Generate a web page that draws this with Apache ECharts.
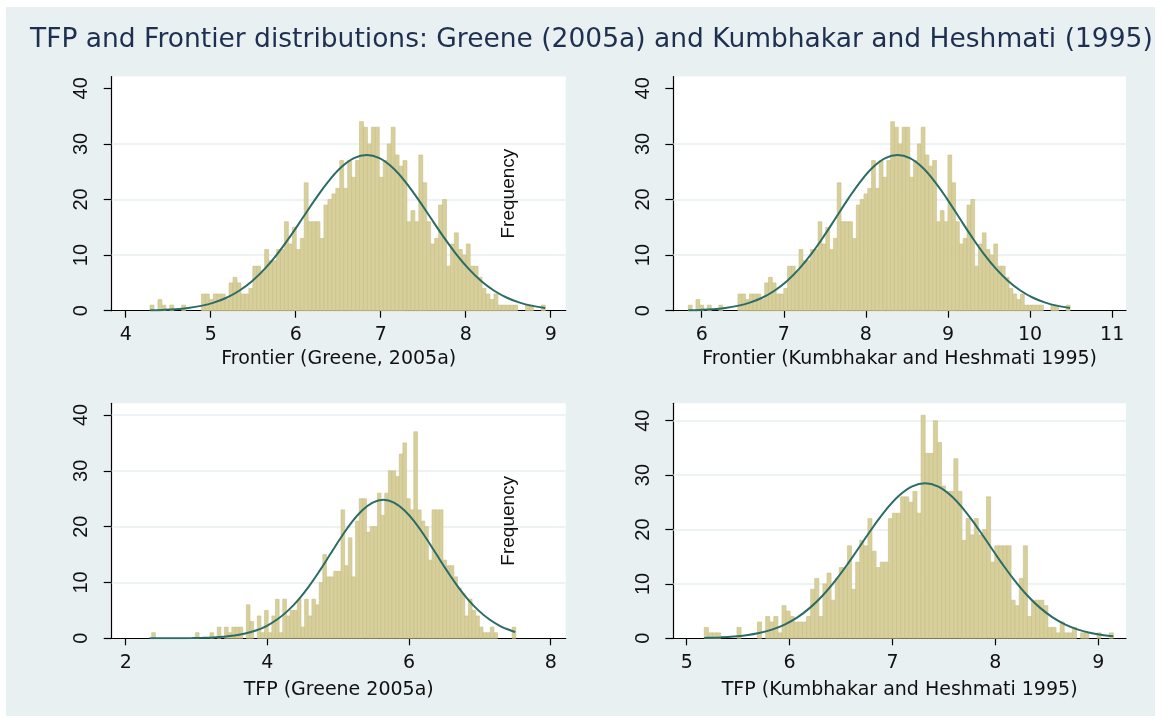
<!DOCTYPE html>
<html><head><meta charset="utf-8">
<script src="https://cdn.jsdelivr.net/npm/echarts/dist/echarts.min.js"></script>
<style>html,body{margin:0;padding:0;background:#fff}#c{width:1161px;height:722px}</style>
</head><body><div id="c"></div>
<script>
const titleText = "TFP and Frontier distributions: Greene (2005a) and Kumbhakar and Heshmati (1995)";
const axisTitles = ["Frontier (Greene, 2005a)", "Frontier (Kumbhakar and Heshmati 1995)", "TFP (Greene 2005a)", "TFP (Kumbhakar and Heshmati 1995)"];
const yTitle = "Frequency";
const yTicks = [0, 10, 20, 30, 40];
const gridTop = [10, 20, 30];
const gridBottom = [10, 20, 30, 40];
const xTicks1 = [4, 5, 6, 7, 8, 9];
const xTicks2 = [6, 7, 8, 9, 10, 11];
const xTicks3 = [2, 4, 6, 8];
const xTicks4 = [5, 6, 7, 8, 9];

// histogram bins: first bin left edge, bin width, frequencies
const binStart1 = 4.286, binWidth1 = 0.0465;
const counts1 = [1,0,2,1,0,1,0,0,1,0, 0,0,0,3,3,2,3,3,3,2, 5,6,5,3,3,4,8,8,7,11, 9,9,11,11,16,12,15,11,13,23,
  16,16,16,13,19,20,21,22,27,22, 27,24,27,34,33,30,33,33,24,27, 30,33,28,26,27,16,18,16,28,23,
  16,12,13,19,20,8,12,14,11,10, 12,8,8,6,4,3,2,3,1,1, 1,1,1,0,0,1,1,0,0,1];
const binStart2 = 5.837, binWidth2 = 0.0465;
const counts2 = [1,0,2,1,0,1,0,0,1,0, 0,0,0,3,3,2,3,3,3,2, 5,6,5,3,3,4,8,8,7,11, 9,9,11,11,16,12,15,11,13,23,
  16,16,16,13,19,20,21,22,27,22, 27,24,27,34,33,30,33,33,24,27, 30,33,28,26,27,16,18,16,28,23,
  16,12,13,19,20,8,12,14,11,10, 12,8,8,6,4,3,2,3,1,1, 1,1,1,0,0,1,1,0,0,1];
const binStart3 = 2.367, binWidth3 = 0.0514;
const counts3 = [1,0,0,0,0,0,0,0,0,0, 0,0,1,0,0,0,1,0,2,0, 2,1,2,2,2,0,6,3,0,4, 1,5,1,4,7,1,7,4,5,5,
  7,2,7,4,7,6,10,15,11,11, 12,12,23,13,18,11,21,25,25,19, 20,20,26,22,26,30,30,29,33,35,
  25,23,37,23,21,20,14,23,23,23, 14,13,13,11,9,8,4,7,5,4, 2,1,1,2,1,0,0,0,0,2];
const binStart4 = 5.171, binWidth4 = 0.03975;
const counts4 = [2,1,1,1,0,0,0,0,2,0, 0,0,0,3,0,4,3,4,1,6, 5,4,3,3,3,4,9,11,4,10, 12,7,11,13,13,17,9,14,18,17,
  22,16,13,14,14,22,23,23,26,26, 25,27,23,41,34,34,40,36,28,27, 27,33,27,18,22,19,22,19,20,26,
  14,17,17,17,17,7,6,11,17,4, 7,7,7,6,2,2,1,3,1,1, 2,0,1,1,0,0,1,0,0,1];

// normal density overlays
const curveX1 = [4.285,4.435,4.585,4.735,4.885,5.035,5.185,5.335,5.485,5.635,5.785,5.935,6.085,6.235,6.385,6.535,6.685,6.835,
  6.985,7.135,7.285,7.435,7.585,7.735,7.885,8.035,8.185,8.335,8.485,8.635,8.785,8.935];
const curveY1 = [0.074,0.146,0.275,0.5,0.87,1.45,2.33,3.59,5.3,7.52,10.23,13.36,16.75,20.16,23.27,25.79,27.43,28,
  27.43,25.79,23.27,20.16,16.75,13.36,10.23,7.52,5.3,3.59,2.33,1.45,0.87,0.5];
const curveX2 = [5.836,5.986,6.136,6.286,6.436,6.586,6.736,6.886,7.036,7.186,7.336,7.486,7.636,7.786,7.936,8.086,8.236,8.386,
  8.536,8.686,8.836,8.986,9.136,9.286,9.436,9.586,9.736,9.886,10.036,10.186,10.336,10.486];
const curveY2 = [0.074,0.146,0.275,0.5,0.87,1.45,2.33,3.59,5.3,7.52,10.23,13.36,16.75,20.16,23.27,25.79,27.43,28,
  27.43,25.79,23.27,20.16,16.75,13.36,10.23,7.52,5.3,3.59,2.33,1.45,0.87,0.5];
const curveX3 = [2.337,2.487,2.637,2.787,2.937,3.087,3.237,3.387,3.537,3.687,3.837,3.987,4.137,4.287,4.437,4.587,4.737,4.887,5.037,5.187,5.337,5.487,5.637,
  5.787,5.937,6.087,6.237,6.387,6.537,6.687,6.837,6.987,7.137,7.287,7.437,7.5];
const curveY3 = [0.002,0.004,0.008,0.018,0.038,0.077,0.148,0.276,0.492,0.844,1.39,2.2,3.36,4.91,6.89,9.31,12.07,15.04,18.01,20.72,22.89,24.31,24.8,
  24.31,22.89,20.72,18.01,15.04,12.07,9.31,6.89,4.91,3.36,2.2,1.39,1.13];
const curveX4 = [5.17,5.208,5.332,5.456,5.58,5.704,5.828,5.952,6.076,6.2,6.324,6.448,6.572,6.696,6.82,6.944,7.068,7.192,7.316,
  7.44,7.564,7.688,7.812,7.936,8.06,8.184,8.308,8.432,8.556,8.68,8.804,8.928,9.052,9.146];
const curveY4 = [0.071,0.088,0.17,0.317,0.565,0.969,1.6,2.53,3.86,5.64,7.92,10.7,13.87,17.29,20.69,23.81,26.31,27.94,28.5,
  27.94,26.31,23.81,20.69,17.29,13.87,10.7,7.92,5.64,3.86,2.53,1.6,0.969,0.565,0.37];

const H_FONT = '"DejaVu Sans", sans-serif';
const V_FONT = '"Liberation Sans", Arial, sans-serif';
const BAR_FILL = '#d8d09c', BAR_STROKE = '#c7bd83', CURVE = '#2b6c66', GRID_LINE = '#e7eef1', BG = '#e9f0f2';

const panels = [
  {grid:{left:111.7, top:76.5, width:454, height:234.2}, xMin:3.835, xMax:9.176, yMax:42.12, xTicks:xTicks1, start:binStart1, w:binWidth1, counts:counts1, cx:curveX1, cy:curveY1, gl:gridTop, yName:'', nameGap:39},
  {grid:{left:673.3, top:76.5, width:452.7, height:234.2}, xMin:5.654, xMax:11.168, yMax:42.12, xTicks:xTicks2, start:binStart2, w:binWidth2, counts:counts2, cx:curveX2, cy:curveY2, gl:gridTop, yName:yTitle, nameGap:39},
  {grid:{left:111.7, top:403.3, width:454, height:235}, xMin:1.802, xMax:8.212, yMax:42.09, xTicks:xTicks3, start:binStart3, w:binWidth3, counts:counts3, cx:curveX3, cy:curveY3, gl:gridBottom, yName:'', nameGap:42},
  {grid:{left:673.3, top:403.3, width:452.7, height:235}, xMin:4.870, xMax:9.269, yMax:43.2, xTicks:xTicks4, start:binStart4, w:binWidth4, counts:counts4, cx:curveX4, cy:curveY4, gl:gridBottom, yName:yTitle, nameGap:42}
];

const grid = [], xAxis = [], yAxis = [], series = [];
panels.forEach((p, i) => {
  grid.push(Object.assign({show:true, backgroundColor:'#ffffff', borderWidth:0, outerBoundsMode:'none'}, p.grid));
  xAxis.push({type:'value', gridIndex:i, min:p.xMin, max:p.xMax,
    axisLine:{show:true, onZero:false, lineStyle:{color:'#000', width:1.2}},
    axisTick:{show:true, length:7, customValues:p.xTicks, lineStyle:{color:'#000', width:1.2}},
    axisLabel:{customValues:p.xTicks, margin:15, fontFamily:H_FONT, fontSize:19, color:'#111'},
    splitLine:{show:false},
    name:axisTitles[i], nameLocation:'middle', nameGap:p.nameGap,
    nameTextStyle:{fontFamily:H_FONT, fontSize:19, color:'#111'}});
  yAxis.push({type:'value', gridIndex:i, min:0, max:p.yMax,
    axisLine:{show:true, onZero:false, lineStyle:{color:'#000', width:1.2}},
    axisTick:{show:true, length:8, customValues:yTicks, lineStyle:{color:'#000', width:1.2}},
    axisLabel:{customValues:yTicks, rotate:90, margin:20, fontFamily:V_FONT, fontSize:20, color:'#111'},
    splitLine:{show:false},
    name:p.yName, nameLocation:'middle', nameGap:155,
    nameTextStyle:{fontFamily:V_FONT, fontSize:19, color:'#111'}});
  series.push({type:'line', xAxisIndex:i, yAxisIndex:i, data:[], silent:true, z:1,
    markLine:{silent:true, symbol:'none', z:1, animation:false, label:{show:false},
      lineStyle:{color:GRID_LINE, width:1.6, type:'solid'},
      data:p.gl.map(v => ({yAxis:v}))}});
  series.push({type:'custom', xAxisIndex:i, yAxisIndex:i, z:2, silent:true,
    data:p.counts.map((c, k) => [p.start + k * p.w, p.start + (k + 1) * p.w, c]),
    encode:{x:[0, 1], y:2},
    renderItem:function(params, api){
      const c = api.value(2);
      if (!c) return null;
      const a = api.coord([api.value(0), 0]);
      const b = api.coord([api.value(1), c]);
      return {type:'rect', shape:{x:a[0], y:b[1], width:b[0] - a[0], height:a[1] - b[1]},
        style:{fill:BAR_FILL, stroke:BAR_STROKE, lineWidth:0.6}};
    }});
  series.push({type:'line', xAxisIndex:i, yAxisIndex:i, z:3, silent:true, symbol:'none',
    smooth:0.4,
    lineStyle:{color:CURVE, width:2},
    data:p.cx.map((x, k) => [x, p.cy[k]])});
});

const chart = echarts.init(document.getElementById('c'), null, {renderer:'canvas'});
chart.setOption({
  animation:false,
  backgroundColor:'#ffffff',
  graphic:[
    {type:'rect', z:-10, silent:true, shape:{x:6, y:7, width:1149, height:709}, style:{fill:BG}},
    {type:'text', z:5, silent:true, left:30, top:27, style:{text:titleText, fontFamily:H_FONT, fontSize:26.5, fill:'#1e3050'}}
  ],
  grid, xAxis, yAxis, series
});
</script></body></html>
